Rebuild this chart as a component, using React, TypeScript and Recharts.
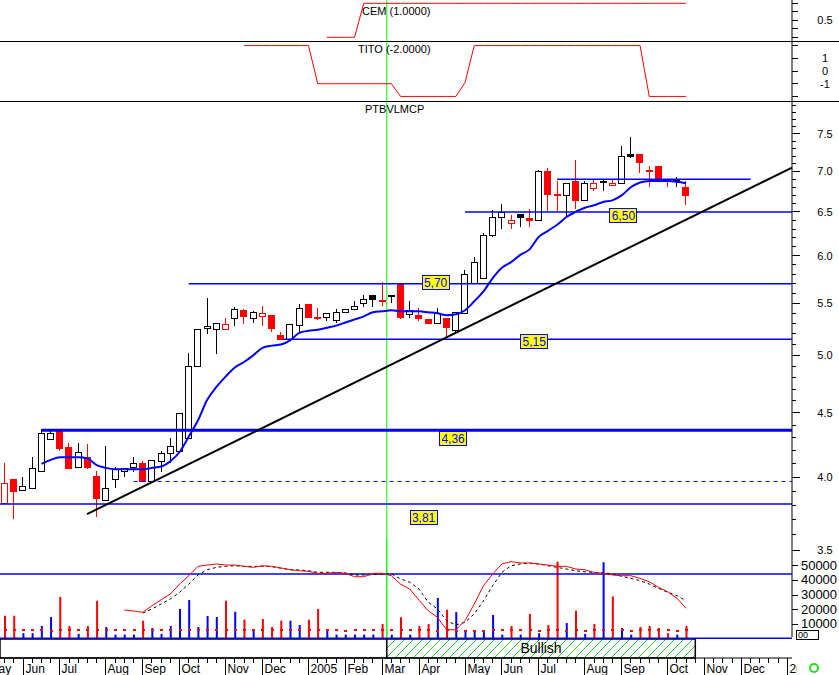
import * as React from 'react';
import {
  ComposedChart, LineChart, Line, Bar, Cell, XAxis, YAxis,
  ReferenceLine, ReferenceArea, ReferenceDot,
} from 'recharts';

const FONT = '"Liberation Sans", Arial, sans-serif';

// weekly candles, May 2004 .. Oct 2005
const opens = [3.82, 3.99, 3.91, 3.92, 4.05, 4.29, 4.36, 4.23, 4.08, 4.15,
  4.01, 3.84, 3.99, 4.05, 4.08, 4.11, 3.97, 4.12, 4.18, 4.20,
  4.30, 4.90, 5.26, 5.25, 5.25, 5.35, 5.43, 5.35, 5.37, 5.38,
  5.19, 5.15, 5.29, 5.49, 5.36, 5.36, 5.33, 5.41, 5.44, 5.50,
  5.58, 5.53, 5.58, 5.70, 5.39, 5.38, 5.34, 5.31, 5.35, 5.24,
  5.40, 5.71, 5.76, 6.23, 6.44, 6.37, 6.47, 6.43, 6.41, 7.00,
  6.72, 6.70, 6.88, 6.64, 6.79, 6.88, 6.83, 6.86, 7.23, 7.23,
  7.02, 7.07, 6.91, 6.89, 6.80];
const highs = [4.11, 3.99, 4.00, 4.15, 4.37, 4.36, 4.36, 4.26, 4.26, 4.25,
  4.05, 4.24, 4.08, 4.07, 4.15, 4.12, 4.13, 4.20, 4.30, 4.50,
  5.02, 5.25, 5.55, 5.31, 5.35, 5.46, 5.44, 5.42, 5.47, 5.38,
  5.22, 5.30, 5.49, 5.49, 5.45, 5.40, 5.44, 5.44, 5.52, 5.58,
  5.58, 5.72, 5.58, 5.70, 5.52, 5.45, 5.34, 5.45, 5.35, 5.41,
  5.84, 5.99, 6.26, 6.52, 6.60, 6.46, 6.47, 6.54, 7.02, 7.05,
  6.88, 6.86, 7.15, 6.88, 6.90, 6.90, 6.90, 7.34, 7.45, 7.23,
  7.07, 7.07, 6.91, 6.93, 6.88];
const lows = [3.81, 3.71, 3.91, 3.92, 4.05, 4.29, 4.20, 4.06, 4.08, 4.06,
  3.72, 3.84, 3.92, 4.00, 4.04, 3.97, 3.97, 4.04, 4.11, 4.20,
  4.30, 4.90, 5.20, 5.01, 5.25, 5.28, 5.30, 5.31, 5.28, 5.22,
  5.15, 5.15, 5.20, 5.35, 5.33, 5.32, 5.31, 5.41, 5.44, 5.46,
  5.46, 5.47, 5.50, 5.34, 5.35, 5.32, 5.30, 5.31, 5.17, 5.22,
  5.40, 5.71, 5.76, 6.21, 6.30, 6.30, 6.32, 6.32, 6.41, 6.50,
  6.50, 6.44, 6.54, 6.64, 6.75, 6.76, 6.83, 6.86, 7.17, 6.98,
  6.81, 6.89, 6.81, 6.81, 6.58];
const closes = [3.96, 3.90, 3.94, 4.07, 4.34, 4.34, 4.22, 4.07, 4.19, 4.08,
  3.85, 3.92, 4.06, 4.07, 4.11, 3.97, 4.13, 4.18, 4.24, 4.50,
  4.90, 5.25, 5.28, 5.31, 5.30, 5.44, 5.37, 5.41, 5.40, 5.26,
  5.15, 5.30, 5.45, 5.36, 5.35, 5.40, 5.41, 5.44, 5.47, 5.54,
  5.54, 5.52, 5.57, 5.36, 5.43, 5.35, 5.31, 5.40, 5.27, 5.41,
  5.80, 5.93, 6.23, 6.44, 6.50, 6.40, 6.44, 6.40, 7.00, 6.72,
  6.71, 6.86, 6.64, 6.86, 6.85, 6.87, 6.86, 7.20, 7.20, 7.12,
  7.00, 6.89, 6.88, 6.88, 6.70];
const priorClose = 4.02;

const movingAvg = [null, null, null, null, 4.10, 4.13, 4.15, 4.15, 4.15, 4.14,
  4.09, 4.07, 4.06, 4.06, 4.06, 4.06, 4.07, 4.08, 4.12, 4.19,
  4.31, 4.44, 4.61, 4.72, 4.81, 4.89, 4.94, 5.00, 5.07, 5.09,
  5.10, 5.14, 5.21, 5.23, 5.24, 5.26, 5.28, 5.31, 5.34, 5.37,
  5.41, 5.42, 5.43, 5.42, 5.42, 5.42, 5.41, 5.40, 5.38, 5.39,
  5.43, 5.52, 5.62, 5.76, 5.87, 5.93, 6.01, 6.07, 6.21, 6.28,
  6.35, 6.44, 6.50, 6.55, 6.58, 6.62, 6.64, 6.70, 6.80, 6.86,
  6.88, 6.88, 6.88, 6.87, 6.85];

const volumes = [15900, 15900, 4000, 4000, 8900, 15000, 28700, 8900, 3500, 8900,
  26100, 8200, 3000, 3000, 3000, 12500, 7500, 3500, 8900, 20500,
  26600, 8200, 15700, 15000, 26100, 18600, 13200, 6300, 13650, 8200,
  12500, 12500, 9550, 13200, 20500, 6300, 3000, 3000, 3000, 3000,
  3000, 10200, 3000, 14800, 3000, 8900, 10200, 28000, 20000, 18400,
  5500, 5500, 5500, 16400, 3000, 8900, 3000, 17100, 4000, 9550,
  52800, 10900, 19300, 3500, 10200, 52400, 29100, 7500, 3000, 8200,
  8900, 7500, 4000, 3000, 8900];
const volMarks = [6000, 6000, 6300, 6300, 6000, 5700, 6000, 6000, 6300, 6000,
  6000, 6000, 6300, 6300, 6300, 6000, 6000, 6300, 6000, 6000,
  6000, 6000, 6000, 6000, 6000, 6000, 6000, 6300, 6000, 6300,
  6000, 6000, 6000, 6000, 6000, 6300, 6300, 5700, 6300, 6300,
  6300, 6000, 6300, 6000, 6300, 6000, 6000, 5700, 6000, 5700,
  5700, 5700, 5700, 6000, 6300, 6000, 6300, 6000, 5700, 6000,
  6000, 5700, 6000, 5700, 6000, 6000, 6000, 6000, 5700, 6000,
  6000, 6000, 6300, 5700, 6000];
const oscFast = [null, null, null, null, null, null, null, null, null, null,
  null, null, null, 19800, 19100, 18200, 22700, 26800, 30700, 37500,
  43200, 49600, 50500, 51200, 50500, 50500, 49600, 48900, 50000, 49600,
  48500, 47300, 46600, 46200, 44800, 44800, 45500, 44800, 42500, 42500,
  44800, 44800, 43200, 37500, 34100, 26500, 19300, 14800, 6300, 6300,
  12500, 23900, 36400, 44400, 51200, 52800, 51900, 51900, 51200, 50500,
  49600, 49600, 47800, 47300, 45500, 44800, 43700, 43200, 43200, 41400,
  39100, 35300, 32300, 27800, 21000];
const oscSlow = [null, null, null, null, null, null, null, null, null, null,
  null, null, null, null, null, 17700, 20500, 23900, 27300, 31900,
  37500, 43700, 47300, 48900, 49600, 50000, 49600, 49600, 49600, 49400,
  48300, 47300, 47100, 46600, 45500, 45500, 45500, 45100, 43700, 43700,
  43900, 44400, 44400, 41000, 38700, 34100, 25100, 20500, 12500, 9600,
  11400, 17100, 26100, 36400, 45500, 50000, 51200, 51700, 51200, 50000,
  48900, 47800, 46600, 45900, 45500, 45100, 44400, 42800, 41400, 39800,
  37500, 34600, 31900, 29600, 26100];

const cemValues = [null, null, null, null, null, null, null, null, null, null,
  null, null, null, null, null, null, null, null, null, null,
  null, null, null, null, null, null, null, null, null, null,
  null, null, null, null, null, 0, 0, 0, 0, 1,
  1, 1, 1, 1, 1, 1, 1, 1, 1, 1,
  1, 1, 1, 1, 1, 1, 1, 1, 1, 1,
  1, 1, 1, 1, 1, 1, 1, 1, 1, 1,
  1, 1, 1, 1, 1];
const titoValues = [null, null, null, null, null, null, null, null, null, null,
  null, null, null, null, null, null, null, null, null, null,
  null, null, null, null, null, null, 2, 2, 2, 2,
  2, 2, 2, 2, -1, -1, -1, -1, -1, -1,
  -1, -1, -1, -2, -2, -2, -2, -2, -2, -2,
  -0.9, 2, 2, 2, 2, 2, 2, 2, 2, 2,
  2, 2, 2, 2, 2, 2, 2, 2, 2, 2,
  -2, -2, -2, -2, -2];

// support / resistance levels
const levelPrices = [3.81, 4.36, 5.15, 5.70, 6.50];
const levelStart = [-0.5, 4, 30.3, 20, 50];
const channelTop = { price: 6.9, from: 60, to: 81 };
const dashedLevel = { price: 3.97, from: 14 };
const trendFrom = { x: 8.95, y: 3.74 };
const trendTo = { x: 85.5, y: 7.05 };
const cursorWeek = 41.5;
const bullishUntil = 75;

const monthIdx = [-2, 2, 6, 11, 15, 19, 24, 28, 33, 37, 41, 45, 50, 54, 58, 63, 67, 72, 76, 80, 85];
const monthLabels = ['May', 'Jun', 'Jul', 'Aug', 'Sep', 'Oct', 'Nov', 'Dec', '2005', 'Feb', 'Mar',
  'Apr', 'May', 'Jun', 'Jul', 'Aug', 'Sep', 'Oct', 'Nov', 'Dec', '2006'];

const priceMajor = [3.5, 4.0, 4.5, 5.0, 5.5, 6.0, 6.5, 7.0, 7.5];
const volTicks = [10000, 20000, 30000, 40000, 50000];

const rows = closes.map((c, i) => ({
  i,
  range: [lows[i], highs[i]],
  o: opens[i], h: highs[i], l: lows[i], c,
  prev: i === 0 ? priorClose : closes[i - 1],
  ma: movingAvg[i],
  vol: volumes[i],
  mark: volMarks[i],
  osc: oscFast[i],
  sig: oscSlow[i],
  cem: cemValues[i],
  tito: titoValues[i],
}));

const X_DOMAIN: [number, number] = [-0.5, 85.5];
const W = 839;
const M = { top: 0, right: 0, bottom: 0, left: 0 };

const priceTicks: number[] = [];
for (let k = 35; k <= 79; k++) priceTicks.push(k / 10);
const weekTicks: number[] = [];
for (let k = -2; k <= 85; k++) weekTicks.push(k);

const snap = (v: number) => Math.round(v) + 0.5;

const Candle = (props: any) => {
  const { x, y, width, height, payload } = props;
  if (x == null || y == null || !payload) return null;
  const top = Math.min(y, y + height);
  const bot = Math.max(y, y + height);
  const { o, h, l, c, prev } = payload;
  const span = Math.log(h) - Math.log(l);
  const py = (p: number) => (span > 0 ? top + (bot - top) * (Math.log(h) - Math.log(p)) / span : top);
  const cx = snap(x + width / 2 - 0.5);
  const col = c < prev ? '#ff0000' : '#000000';
  const fill = c < o ? col : '#ffffff';
  const bt = Math.round(py(Math.max(o, c)));
  const bb = Math.round(py(Math.min(o, c)));
  return (
    <g>
      <line x1={cx} x2={cx} y1={Math.round(top)} y2={Math.round(bot)} stroke={col} />
      <rect x={cx - 3} y={bt + 0.5} width={6} height={Math.max(bb - bt, 1)} fill={fill} stroke={col} />
    </g>
  );
};

const PriceTick = (props: any) => {
  const { x, y, payload } = props;
  const v = Math.round(payload.value * 10) / 10;
  const major = priceMajor.includes(v);
  const yy = snap(y - 0.5);
  return (
    <g>
      <line x1={x} x2={x + (major ? 8 : 4)} y1={yy} y2={yy} stroke="#000" />
      {major && (
        <text x={x + 33} y={y} dy={4} textAnchor="middle" fontSize={11} fill="#000">{v.toFixed(1)}</text>
      )}
    </g>
  );
};

const SmallTick = (labels: number[]) => (props: any) => {
  const { x, y, payload } = props;
  const yy = snap(y - 0.5);
  return (
    <g>
      <line x1={x} x2={x + 6} y1={yy} y2={yy} stroke="#000" />
      {labels.includes(payload.value) && (
        <text x={x + 33} y={y} dy={4} textAnchor="middle" fontSize={11} fill="#000">{String(payload.value)}</text>
      )}
    </g>
  );
};

const VolTick = (props: any) => {
  const { x, y, payload } = props;
  const yy = snap(y - 0.5);
  return (
    <g>
      <line x1={x} x2={x + 6} y1={yy} y2={yy} stroke="#000" />
      <text x={x + 27} y={y} dy={4} textAnchor="middle" fontSize={13} fill="#000">{payload.value}</text>
    </g>
  );
};

const MonthTick = (props: any) => {
  const { x, y, payload } = props;
  const k = monthIdx.indexOf(payload.value);
  const xx = snap(x - 0.5);
  if (k < 0) return <line x1={xx} x2={xx} y1={y} y2={y + 5} stroke="#000" />;
  return (
    <g>
      <line x1={xx} x2={xx} y1={y} y2={y + 17} stroke="#000" />
      <text x={xx + 2} y={y + 15} fontSize={12} fill="#000" clipPath="url(#axclip)">{monthLabels[k]}</text>
    </g>
  );
};

// where the yellow value tags sit: [week, vertical offset]
const tagSpots: Record<string, [number, number]> = {
  '3.81': [45.5, 13.5],
  '4.36': [48.7, 8],
  '5.15': [57.5, 2.5],
  '5.70': [46.8, -1.5],
  '6.50': [67.2, 4],
};

const LevelTag = ({ cx, cy, text, dy }: any) => (
  <g>
    <rect x={snap(cx - 14)} y={snap(cy + dy - 7.5)} width={27} height={14} fill="#ffff00" stroke="#0000ff" />
    <text x={cx} y={cy + dy + 4.5} textAnchor="middle" fontSize={12} fill="#0000ff">{text}</text>
  </g>
);

const VolMark = (props: any) => {
  const { cx, cy, index } = props;
  if (cx == null || cy == null) return <g key={index} />;
  return <rect key={index} x={Math.round(cx) - 1} y={Math.round(cy) - 1} width={3} height={2} fill="#ff0000" />;
};

const hiddenX = <XAxis type="number" dataKey="i" domain={X_DOMAIN} allowDataOverflow hide />;

const CemPanel = () => (
  <LineChart width={W} height={41} data={rows} margin={M}>
    {hiddenX}
    <YAxis orientation="right" width={47} domain={[-0.109, 1.097]} allowDataOverflow
      ticks={[0, 0.25, 0.5, 0.75, 1]} interval={0} tick={SmallTick([0.5])}
      tickLine={false} tickSize={0} tickMargin={0} axisLine={{ stroke: '#000' }} />
    <ReferenceLine x={cursorWeek} stroke="#00ff00" />
    <Line dataKey="cem" type="linear" stroke="#ff0000" strokeWidth={1} dot={false} isAnimationActive={false} />
  </LineChart>
);

const TitoPanel = () => (
  <LineChart width={W} height={60} data={rows} margin={M}>
    {hiddenX}
    <YAxis orientation="right" width={47} domain={[-2.36, 2.36]} allowDataOverflow
      ticks={[-2, -1, 0, 1, 2]} interval={0} tick={SmallTick([-1, 0, 1])}
      tickLine={false} tickSize={0} tickMargin={0} axisLine={{ stroke: '#000' }} />
    <ReferenceLine x={cursorWeek} stroke="#00ff00" />
    <Line dataKey="tito" type="linear" stroke="#ff0000" strokeWidth={1} dot={false} isAnimationActive={false} />
  </LineChart>
);

const PricePanel = () => (
  <ComposedChart width={W} height={536} data={rows} margin={M}>
    {hiddenX}
    <YAxis orientation="right" width={47} scale="log" domain={[2.987, 7.963]} allowDataOverflow
      ticks={priceTicks} interval={0} tick={<PriceTick />}
      tickLine={false} tickSize={0} tickMargin={0} axisLine={{ stroke: '#000' }} />
    <ReferenceLine x={cursorWeek} stroke="#00ff00" />
    {levelPrices.map((p, k) => (
      <ReferenceLine key={'lv' + k} stroke="#0000ff" strokeWidth={p === 4.36 ? 3 : 1.5}
        segment={[{ x: levelStart[k], y: p }, { x: X_DOMAIN[1], y: p }]} />
    ))}
    <ReferenceLine stroke="#0000ff" strokeWidth={1.5}
      segment={[{ x: channelTop.from, y: channelTop.price }, { x: channelTop.to, y: channelTop.price }]} />
    <ReferenceLine stroke="#0000ff" strokeWidth={1} strokeDasharray="4 4"
      segment={[{ x: dashedLevel.from, y: dashedLevel.price }, { x: X_DOMAIN[1], y: dashedLevel.price }]} />
    <ReferenceLine stroke="#000000" strokeWidth={2} segment={[trendFrom, trendTo]} />
    <Bar dataKey="range" barSize={7} shape={<Candle />} isAnimationActive={false} />
    <Line dataKey="ma" type="monotone" stroke="#0000ff" strokeWidth={2} dot={false} isAnimationActive={false} />
    {levelPrices.map((p) => {
      const key = p.toFixed(2);
      const spot = tagSpots[key];
      return (
        <ReferenceDot key={'tag' + key} x={spot[0]} y={p} r={0}
          shape={(s: any) => <LevelTag cx={s.cx} cy={s.cy} dy={spot[1]} text={key.replace('.', ',')} />} />
      );
    })}
  </ComposedChart>
);

const VolumePanel = () => (
  <ComposedChart width={W} height={100} data={rows} margin={M}>
    {hiddenX}
    <YAxis orientation="right" width={47} domain={[0, 68260]} allowDataOverflow
      ticks={volTicks} interval={0} tick={<VolTick />}
      tickLine={false} tickSize={0} tickMargin={0} axisLine={false} />
    <ReferenceLine y={44400} stroke="#0000ff" strokeWidth={1.5} />
    <ReferenceLine x={cursorWeek} stroke="#00ff00" />
    <Bar dataKey="vol" barSize={2} isAnimationActive={false}>
      {rows.map((r, k) => (
        <Cell key={k} fill={r.c < r.prev ? '#ff0000' : '#0000ff'} />
      ))}
    </Bar>
    <Line dataKey="mark" stroke="none" dot={<VolMark />} activeDot={false} isAnimationActive={false} />
    <Line dataKey="sig" type="linear" stroke="#000000" strokeWidth={1} strokeDasharray="3 3" dot={false} isAnimationActive={false} />
    <Line dataKey="osc" type="linear" stroke="#ff0000" strokeWidth={1} dot={false} isAnimationActive={false} />
    <ReferenceLine y={0} stroke="#0000ff" strokeWidth={3} />
  </ComposedChart>
);

const BandPanel = () => (
  <ComposedChart width={W} height={36} data={rows} margin={{ top: 0, right: 47, bottom: 0, left: 0 }}>
    <defs>
      <pattern id="hatch" patternUnits="userSpaceOnUse" width={9} height={9}>
        <rect width={9} height={9} fill="#ffffff" />
        <path d="M0,9 L9,0 M-2,2 L2,-2 M7,11 L11,7" stroke="#22cc22" strokeWidth={1} />
      </pattern>
      <clipPath id="axclip">
        <rect x={0} y={0} width={797} height={36} />
      </clipPath>
    </defs>
    <XAxis type="number" dataKey="i" domain={X_DOMAIN} allowDataOverflow
      ticks={weekTicks} interval={0} tick={<MonthTick />} height={17}
      tickLine={false} tickSize={0} tickMargin={0} axisLine={{ stroke: '#000' }} />
    <YAxis hide domain={[0, 1]} allowDataOverflow />
    <ReferenceArea x1={X_DOMAIN[0]} x2={cursorWeek} y1={0} y2={1} fill="#ffffff" fillOpacity={1}
      stroke="#000" strokeWidth={1.5} ifOverflow="visible" />
    <ReferenceArea x1={cursorWeek} x2={bullishUntil} y1={0} y2={1} fill="url(#hatch)" fillOpacity={1}
      stroke="#000" strokeWidth={1.5} ifOverflow="visible"
      label={{ value: 'Bullish', position: 'center', fontSize: 14, fill: '#000' }} />
  </ComposedChart>
);

const title = (text: string, left: number, top: number) => (
  <div style={{ position: 'absolute', left, top, fontSize: 11, lineHeight: '12px', color: '#000', whiteSpace: 'nowrap' }}>
    {text}
  </div>
);

export default function App() {
  return (
    <div style={{ position: 'absolute', left: 0, top: 0, width: 839, height: 675, background: '#fff', fontFamily: FONT, overflow: 'hidden' }}>
      <div style={{ position: 'absolute', left: 0, top: 0 }}><CemPanel /></div>
      <div style={{ position: 'absolute', left: 0, top: 41 }}><TitoPanel /></div>
      <div style={{ position: 'absolute', left: 0, top: 101 }}><PricePanel /></div>
      <div style={{ position: 'absolute', left: 0, top: 539 }}><VolumePanel /></div>
      <div style={{ position: 'absolute', left: 0, top: 639 }}><BandPanel /></div>
      <div style={{ position: 'absolute', left: 0, top: 41, width: 839, height: 1, background: '#000' }} />
      <div style={{ position: 'absolute', left: 0, top: 101, width: 839, height: 1, background: '#000' }} />
      {title('CEM (1.0000)', 362, 5)}
      {title('TITO (-2.0000)', 358, 43)}
      {title('PTBVLMCP', 365, 103)}
      <div style={{ position: 'absolute', left: 796, top: 630, width: 20, height: 8, border: '1px solid #000', background: '#fff', fontSize: 9, lineHeight: '8px', paddingLeft: 1, boxSizing: 'content-box' }}>00</div>
      <div style={{ position: 'absolute', left: 809, top: 663, width: 6, height: 6, border: '2px solid #22dd22', borderRadius: '50%' }} />
    </div>
  );
}
